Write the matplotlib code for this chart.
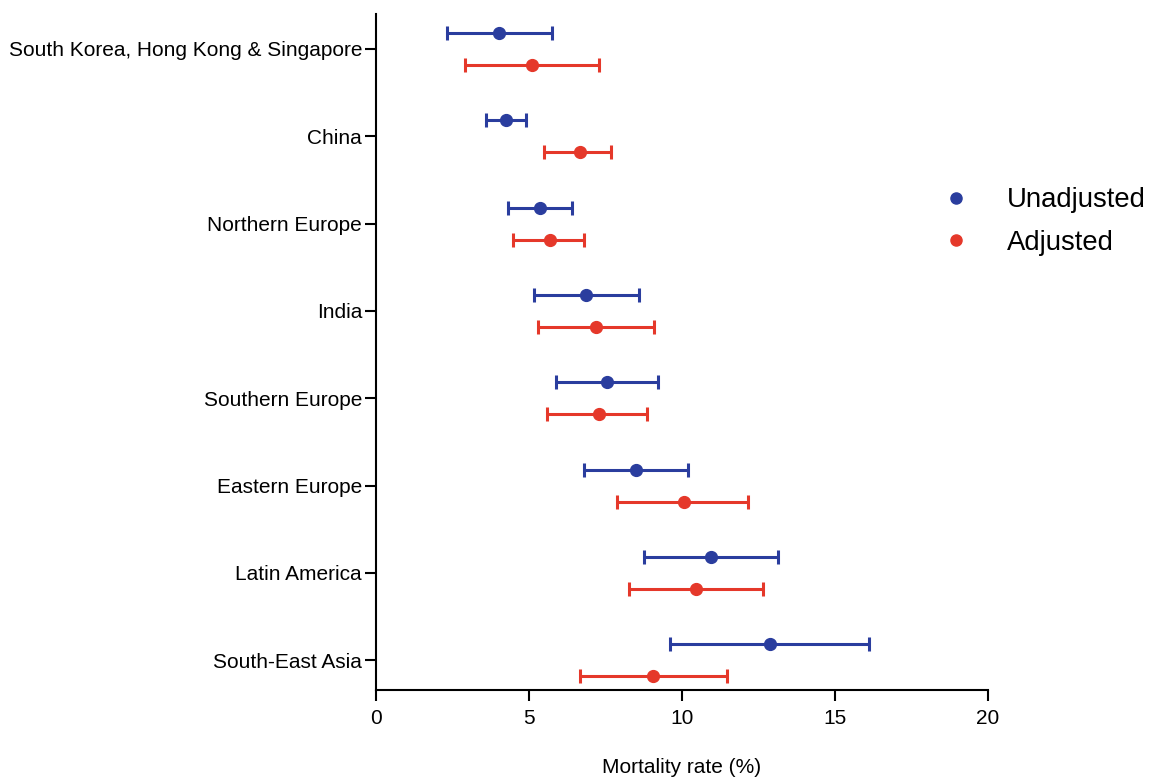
import numpy as np
from matplotlib import pyplot as plt
from matplotlib.lines import Line2D

plt.rcParams['font.family'] = ['Liberation Sans', 'DejaVu Sans']

regions = ['South Korea, Hong Kong & Singapore', 'China', 'Northern Europe', 'India',
           'Southern Europe', 'Eastern Europe', 'Latin America', 'South-East Asia']

unadj = [4.02, 4.25, 5.35, 6.87, 7.54, 8.50, 10.95, 12.88]
unadj_lo = [2.32, 3.60, 4.30, 5.16, 5.89, 6.80, 8.76, 9.61]
unadj_hi = [5.75, 4.90, 6.41, 8.60, 9.20, 10.20, 13.14, 16.11]

adj = [5.10, 6.67, 5.69, 7.18, 7.28, 10.07, 10.46, 9.05]
adj_lo = [2.91, 5.49, 4.48, 5.30, 5.59, 7.87, 8.27, 6.67]
adj_hi = [7.29, 7.68, 6.80, 9.09, 8.86, 12.16, 12.65, 11.47]

blue = '#2a3d9e'
red = '#e5382a'

fig = plt.figure(figsize=(11.52, 7.77), dpi=100)
ax = fig.add_axes([0.3264, 0.112, 0.5312, 0.870])

y = np.arange(len(regions))
off = 0.183

for vals, lo, hi, col, sgn in [(unadj, unadj_lo, unadj_hi, blue, -1),
                               (adj, adj_lo, adj_hi, red, 1)]:
    vals = np.array(vals)
    err = [vals - np.array(lo), np.array(hi) - vals]
    ax.errorbar(vals, y + sgn * off, xerr=err, fmt='o', color=col, ecolor=col,
                elinewidth=2.2, capsize=5, capthick=2.2, markersize=8.5)

ax.set_yticks(y)
ax.set_yticklabels(regions, fontsize=15)
ax.set_ylim(7.34, -0.40)
ax.set_xlim(0, 20)
ax.set_xticks([0, 5, 10, 15, 20])
ax.tick_params(axis='x', labelsize=15, width=1.5, length=8, pad=6)
ax.tick_params(axis='y', width=1.5, length=8, pad=2)
ax.set_xlabel('Mortality rate (%)', fontsize=15, labelpad=21)

for s in ['top', 'right']:
    ax.spines[s].set_visible(False)
for s in ['left', 'bottom']:
    ax.spines[s].set_linewidth(1.5)

handles = [Line2D([], [], marker='o', linestyle='', color=blue, markersize=8),
           Line2D([], [], marker='o', linestyle='', color=red, markersize=8)]
fig.legend(handles, ['Unadjusted', 'Adjusted'], loc='upper left',
           bbox_to_anchor=(0.818, 0.759), frameon=False, fontsize=19.8,
           handlelength=1.0, handletextpad=1.35, labelspacing=0.6,
           borderpad=0, borderaxespad=0)

fig.savefig('out.png', dpi=100)
